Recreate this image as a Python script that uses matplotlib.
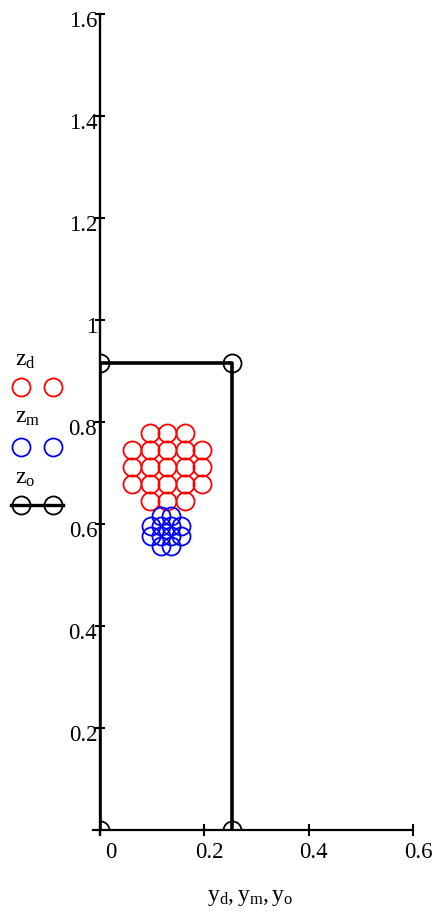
import numpy as np
import matplotlib
matplotlib.use("Agg")
import matplotlib.pyplot as plt
from matplotlib.transforms import ScaledTranslation

plt.rcParams['font.family'] = ['Liberation Serif', 'DejaVu Serif']
plt.rcParams['mathtext.fontset'] = 'custom'
plt.rcParams['mathtext.rm'] = 'Liberation Serif'
plt.rcParams['mathtext.it'] = 'Liberation Serif:italic'

# red points (y_d, z_d)
y_d = [0.095, 0.128, 0.162,
       0.061, 0.095, 0.128, 0.162, 0.195,
       0.061, 0.095, 0.128, 0.162, 0.195,
       0.061, 0.095, 0.128, 0.162, 0.195,
       0.095, 0.128, 0.162]
z_d = [0.778, 0.778, 0.778,
       0.745, 0.745, 0.745, 0.745, 0.745,
       0.712, 0.712, 0.712, 0.712, 0.712,
       0.678, 0.678, 0.678, 0.678, 0.678,
       0.645, 0.645, 0.645]

# blue points (y_m, z_m)
y_m = [0.117, 0.136,
       0.098, 0.117, 0.136, 0.156,
       0.098, 0.117, 0.136, 0.156,
       0.117, 0.136]
z_m = [0.616, 0.616,
       0.596, 0.596, 0.596, 0.596,
       0.577, 0.577, 0.577, 0.577,
       0.557, 0.557]

# black outline (y_o, z_o)
y_o = [0.0, 0.0, 0.2525, 0.2525]
z_o = [0.0, 0.915, 0.915, 0.0]

x_ticks = [0, 0.2, 0.4, 0.6]
x_labels = ['0', '0.2', '0.4', '0.6']
y_ticks = [0.2, 0.4, 0.6, 0.8, 1.0, 1.2, 1.4, 1.6]
y_labels = ['0.2', '0.4', '0.6', '0.8', '1', '1.2', '1.4', '1.6']

W, H = 437, 915
fig = plt.figure(figsize=(W / 100, H / 100), dpi=100)
ax = fig.add_axes([100 / W, (H - 830) / H, 313 / W, 816 / H])

ms = 13
lines = []
lines += ax.plot(y_d, z_d, 'o', ms=ms, mfc='none', mec='red', mew=1.3)
lines += ax.plot(y_m, z_m, 'o', ms=ms, mfc='none', mec='blue', mew=1.3)
lines += ax.plot(y_o, z_o, '-', color='black', lw=2.6, marker='o', ms=ms,
                 mfc='none', mec='black', mew=1.3)
for ln in lines:
    ln.set_clip_path(ax.patch)

ax.set_xlim(0, 0.6)
ax.set_ylim(0, 1.6)
for s in ['top', 'right']:
    ax.spines[s].set_visible(False)
ax.spines['left'].set_linewidth(1.7)
ax.spines['bottom'].set_linewidth(1.6)
ax.spines['bottom'].set_bounds(-0.0134, 0.6)
ax.spines['left'].set_bounds(-0.008, 1.6)

ax.set_xticks(x_ticks)
ax.set_xticklabels(x_labels, fontsize=16.5)
ax.set_yticks(y_ticks)
ax.set_yticklabels(y_labels, fontsize=16.5)
ax.tick_params(axis='x', direction='inout', length=9, width=1.5, pad=4.5)
ax.tick_params(axis='y', direction='inout', length=7, width=1.5, pad=-1.5)

# shift tick labels like the original
for lab in ax.get_xticklabels():
    dx = 11 if lab.get_text() == '0' else 5
    lab.set_transform(lab.get_transform() + ScaledTranslation(dx / 100, 0, fig.dpi_scale_trans))
for lab in ax.get_yticklabels():
    lab.set_transform(lab.get_transform() + ScaledTranslation(0, -5 / 100, fig.dpi_scale_trans))

ax.set_xlabel(r'$\mathrm{y_d, y_m, y_o}$', fontsize=17)
ax.xaxis.set_label_coords(0.479, -0.07)

# legend on the left, drawn in pixel coordinates
lg = fig.add_axes([0, 0, 1, 1], facecolor='none')
lg.set_xlim(0, W)
lg.set_ylim(H, 0)
lg.axis('off')
entries = [(r'$\mathrm{z_d}$', 'red', 366, 387, False),
           (r'$\mathrm{z_m}$', 'blue', 423, 447, False),
           (r'$\mathrm{z_o}$', 'black', 484, 505, True)]
for text, col, ty, my, with_line in entries:
    lg.text(15, ty, text, fontsize=17, va='baseline', ha='left')
    if with_line:
        lg.plot([11, 63], [my, my], '-', color=col, lw=2.4)
    lg.plot([21, 53], [my, my], 'o', ms=ms, mfc='none', mec=col, mew=1.3)

fig.savefig('out.png', dpi=100)
